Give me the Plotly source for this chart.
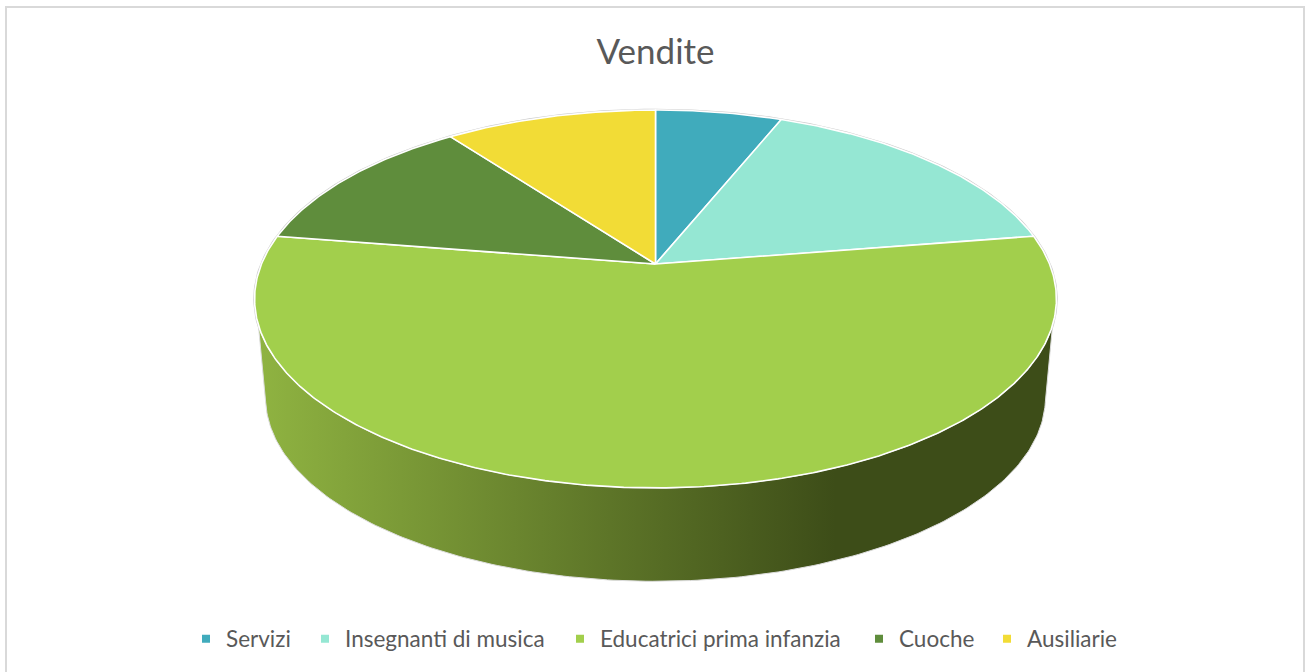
import numpy as np
import plotly.graph_objects as go

TITLE = "Vendite"
categories = ["Servizi", "Insegnanti di musica", "Educatrici prima infanzia", "Cuoche", "Ausiliarie"]
values = [6.1, 16.4, 55.0, 12.3, 10.2]
colors = ["#40ABBC", "#95E7D3", "#A2CF4C", "#5F8D3C", "#F2DC36"]

W, H = 1305, 672
CX, APEX_Y = 655.5, 264.0
A, B, K = 394.0, 182.5, 0.185      # perspective projection of the pie disc
WALL_SCALE, WALL_APEX_Y = 0.9726, 363.5
FONT = "Lato, 'Open Sans', sans-serif"
LEGEND_TEXT_LEFT = [226, 345, 600, 899, 1027]   # pixel where each legend label starts


def project(deg, scale=1.0, apex_y=APEX_Y):
    r = np.radians(deg)
    X, Y = np.sin(r), np.cos(r)
    d = 1 + K * Y
    return CX + scale * A * X / d, apex_y - scale * B * Y / d


shares = np.array(values) / sum(values) * 360.0
ends = np.cumsum(shares)
starts = ends - shares
fig = go.Figure()

# faint outline around the disc
xo, yo = project(np.arange(0, 360.5, 1.0))
fig.add_trace(go.Scatter(x=list(xo), y=list(yo), mode="lines", line=dict(color="#cccccc", width=2.6),
                         hoverinfo="skip", showlegend=False))

# wall: silhouette between the tangent points of the two rims, with a horizontal gradient
xt, yt = project(np.linspace(108.3, 251.7, 200))
xb, yb = project(np.linspace(257.8, 102.2, 200), WALL_SCALE, WALL_APEX_Y)
fig.add_trace(go.Scatter(
    x=list(np.r_[xt, xb, xt[0]]), y=list(np.r_[yt, yb, yt[0]]), mode="lines", fill="toself",
    line=dict(color="#dddddd", width=1), hoverinfo="skip", showlegend=False,
    fillgradient=dict(type="horizontal", start=260, stop=835,
                      colorscale=[[0, "rgb(143,179,65)"], [1, "rgb(61,77,24)"]]),
))

# top face
for s, e, col in zip(starts, ends, colors):
    deg = np.linspace(s, e, max(int(e - s) * 2, 8))
    x, y = project(deg)
    fig.add_trace(go.Scatter(x=list(np.r_[CX, x, CX]), y=list(np.r_[APEX_Y, y, APEX_Y]), mode="lines",
                             fill="toself", fillcolor=col, line=dict(color="#ffffff", width=1.6),
                             hoverinfo="skip", showlegend=False))

# legend: one entry per box so that each label sits where it should
legend_boxes = {}
for i, (name, col, left) in enumerate(zip(categories, colors, LEGEND_TEXT_LEFT)):
    key = "legend" if i == 0 else f"legend{i + 1}"
    fig.add_trace(go.Scatter(x=[None], y=[None], mode="markers", name=name, legend=key,
                             marker=dict(symbol="square", size=8, color=col)))
    legend_boxes[key] = dict(orientation="h", x=(left - 40) / W, xanchor="left", y=1 - 639 / H, yanchor="middle",
                             font=dict(family=FONT, size=22.5, color="#595959"),
                             itemclick=False, itemdoubleclick=False, bgcolor="rgba(0,0,0,0)")

fig.update_layout(
    width=W, height=H, margin=dict(l=0, r=0, t=0, b=0), autosize=False,
    paper_bgcolor="white", plot_bgcolor="white",
    title=dict(text=TITLE, x=655.5 / W, xanchor="center", y=1 - 52 / H, yanchor="middle",
               font=dict(family=FONT, size=35, color="#595959")),
    xaxis=dict(range=[0, W], visible=False, fixedrange=True),
    yaxis=dict(range=[H, 0], visible=False, fixedrange=True),
    shapes=[dict(type="rect", xref="x", yref="y", x0=6, x1=1304, y0=7, y1=700,
                 line=dict(color="#d9d9d9", width=2), layer="below")],
    **legend_boxes,
)
fig.write_html("out.html", config={"displayModeBar": False},
               post_script="document.body.style.margin='0';document.body.style.overflow='hidden';")
